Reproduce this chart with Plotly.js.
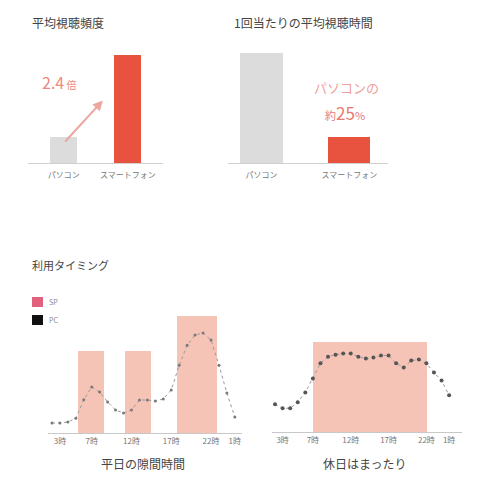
<!DOCTYPE html>
<html><head><meta charset="utf-8">
<script src="https://cdn.plot.ly/plotly-3.0.1.min.js"></script>
<style>html,body{margin:0;padding:0;background:#fff;}#chart{width:488px;height:491px;}</style>
</head><body><div id="chart"></div>
<script>
// ---- data ----
const devices = ['パソコン', 'スマートフォン'];
const freqValues = [24, 100];          // 平均視聴頻度 (relative)
const timeValues = [100, 24];          // 1回当たりの平均視聴時間 (relative)
const barColors = ['#dcdcdc', '#e8533f'];

const hours = [2,3,4,5,6,7,8,9,10,11,12,13,14,15,16,17,18,19,20,21,22,23,24,25];
const weekdayUsage = [7.5,7.5,8.3,11,25,34.6,30.8,23.3,17.3,15,17.3,24.8,24.8,24,25.6,32.3,51,66,73.7,75.2,70,51,30,12];
const holidayUsage = [21,18,18,22.6,30,40.6,52,57.1,58.6,59.4,59.4,57.1,55.6,56.4,57.9,57.9,52,48.9,54.1,54.9,52,45,39,27.8];

const weekdayPeakStart = [5.3, 11.2, 17.7];
const weekdayPeakEnd   = [8.5, 14.5, 22.8];
const weekdayPeakLevel = [62, 62, 88];
const holidayPeakStart = [7.0];
const holidayPeakEnd   = [22.1];
const holidayPeakLevel = [68];

const hourTickVals = [3, 7, 12, 17, 22, 25];
const hourTickText = ['3時', '7時', '12時', '17時', '22時', '1時'];

// ---- helpers ----
const FONT = '"Noto Sans CJK JP", "Noto Sans", sans-serif';
const W = 488, H = 491;
const px = v => v / W;
const py = v => 1 - v / H;
const mid = (a, b) => a.map((s, i) => (s + b[i]) / 2);
const span = (a, b) => a.map((s, i) => b[i] - s);

const peakColor = '#f6c4b6';
const lineStyle = {color: '#9a9a9a', width: 1, dash: 'dot'};

const traces = [
  {type: 'bar', x: [0, 1], y: freqValues, width: 0.42, marker: {color: barColors},
   xaxis: 'x', yaxis: 'y', hoverinfo: 'none'},
  {type: 'bar', x: [0, 1], y: timeValues, width: 0.48, marker: {color: barColors},
   xaxis: 'x2', yaxis: 'y2', hoverinfo: 'none'},
  {type: 'bar', x: mid(weekdayPeakStart, weekdayPeakEnd), width: span(weekdayPeakStart, weekdayPeakEnd),
   y: weekdayPeakLevel, marker: {color: peakColor}, xaxis: 'x3', yaxis: 'y3', hoverinfo: 'none'},
  {type: 'scatter', mode: 'lines+markers', x: hours, y: weekdayUsage, line: lineStyle,
   marker: {color: '#7a7a7a', size: 3}, xaxis: 'x3', yaxis: 'y3', hoverinfo: 'none'},
  {type: 'bar', x: mid(holidayPeakStart, holidayPeakEnd), width: span(holidayPeakStart, holidayPeakEnd),
   y: holidayPeakLevel, marker: {color: peakColor}, xaxis: 'x4', yaxis: 'y4', hoverinfo: 'none'},
  {type: 'scatter', mode: 'lines+markers', x: hours, y: holidayUsage, line: lineStyle,
   marker: {color: '#555', size: 4}, xaxis: 'x4', yaxis: 'y4', hoverinfo: 'none'}
];

const catAxis = (domain, range, anchor) => ({
  domain, range, anchor, tickvals: [0, 1], ticktext: devices, showgrid: false, zeroline: false,
  showline: true, linecolor: '#d0d0d0', linewidth: 1, ticks: '', ticklabelstandoff: 4,
  tickfont: {size: 8, color: '#777', family: FONT}, fixedrange: true
});
const hourAxis = (domain, range, anchor) => ({
  domain, range, anchor, tickvals: hourTickVals, ticktext: hourTickText, showgrid: false, zeroline: false,
  showline: true, linecolor: '#c8c8c8', linewidth: 1, ticks: '',
  tickfont: {size: 8, color: '#777', family: FONT}, fixedrange: true
});
const hiddenY = (domain, range, anchor) => ({domain, range, anchor, visible: false, fixedrange: true});

const ann = (text, x, y, size, color, xanchor) => ({
  text, x: px(x), y: py(y), xref: 'paper', yref: 'paper', showarrow: false,
  xanchor: xanchor || 'left', yanchor: 'middle', font: {size, color, family: FONT}
});

const layout = {
  width: W, height: H, margin: {l: 0, r: 0, t: 0, b: 0},
  paper_bgcolor: '#fff', plot_bgcolor: 'rgba(0,0,0,0)', showlegend: false,
  font: {family: FONT},
  bargap: 0,
  xaxis: catAxis([px(28), px(163)], [-0.56, 1.55], 'y'),
  yaxis: hiddenY([py(163), py(40)], [0, 114], 'x'),
  xaxis2: catAxis([px(228), px(388)], [-0.38, 1.44], 'y2'),
  yaxis2: hiddenY([py(163), py(40)], [0, 112], 'x2'),
  xaxis3: hourAxis([px(48), px(242)], [1.5, 25.9], 'y3'),
  yaxis3: hiddenY([py(433), py(300)], [0, 100], 'x3'),
  xaxis4: hourAxis([px(272), px(462)], [1.6, 26.7], 'y4'),
  yaxis4: hiddenY([py(432), py(300)], [0, 100], 'x4'),
  shapes: [
    {type: 'rect', xref: 'paper', yref: 'paper', x0: px(32), x1: px(43), y0: py(307), y1: py(297),
     fillcolor: '#e0607e', line: {width: 0}},
    {type: 'rect', xref: 'paper', yref: 'paper', x0: px(32), x1: px(43), y0: py(325), y1: py(315),
     fillcolor: '#111111', line: {width: 0}}
  ],
  annotations: [
    ann('平均視聴頻度', 30, 22, 12, '#444'),
    ann('1回当たりの平均視聴時間', 232, 22, 12, '#444'),
    ann('<span style="font-size:16px">2.4</span> 倍', 40, 82, 10, '#ec8a80'),
    {x: 0.61, y: 58, ax: 0, ay: 18.5, xref: 'x', yref: 'y', axref: 'x', ayref: 'y',
     showarrow: true, arrowhead: 2, arrowsize: 1, arrowwidth: 2, arrowcolor: '#eda5a0', text: ''},
    ann('パソコンの', 346, 88, 13, '#f0a09a', 'center'),
    ann('約<span style="font-size:17px">25</span>%', 345, 112, 11, '#ea7a70', 'center'),
    ann('利用タイミング', 30, 265, 11, '#444'),
    ann('SP', 47, 302, 7, '#888'),
    ann('PC', 47, 320, 7, '#888'),
    ann('平日の隙間時間', 143, 463, 12, '#444', 'center'),
    ann('休日はまったり', 365, 463, 12, '#444', 'center')
  ]
};

Plotly.newPlot('chart', traces, layout, {displayModeBar: false, staticPlot: true});
</script>
</body></html>
